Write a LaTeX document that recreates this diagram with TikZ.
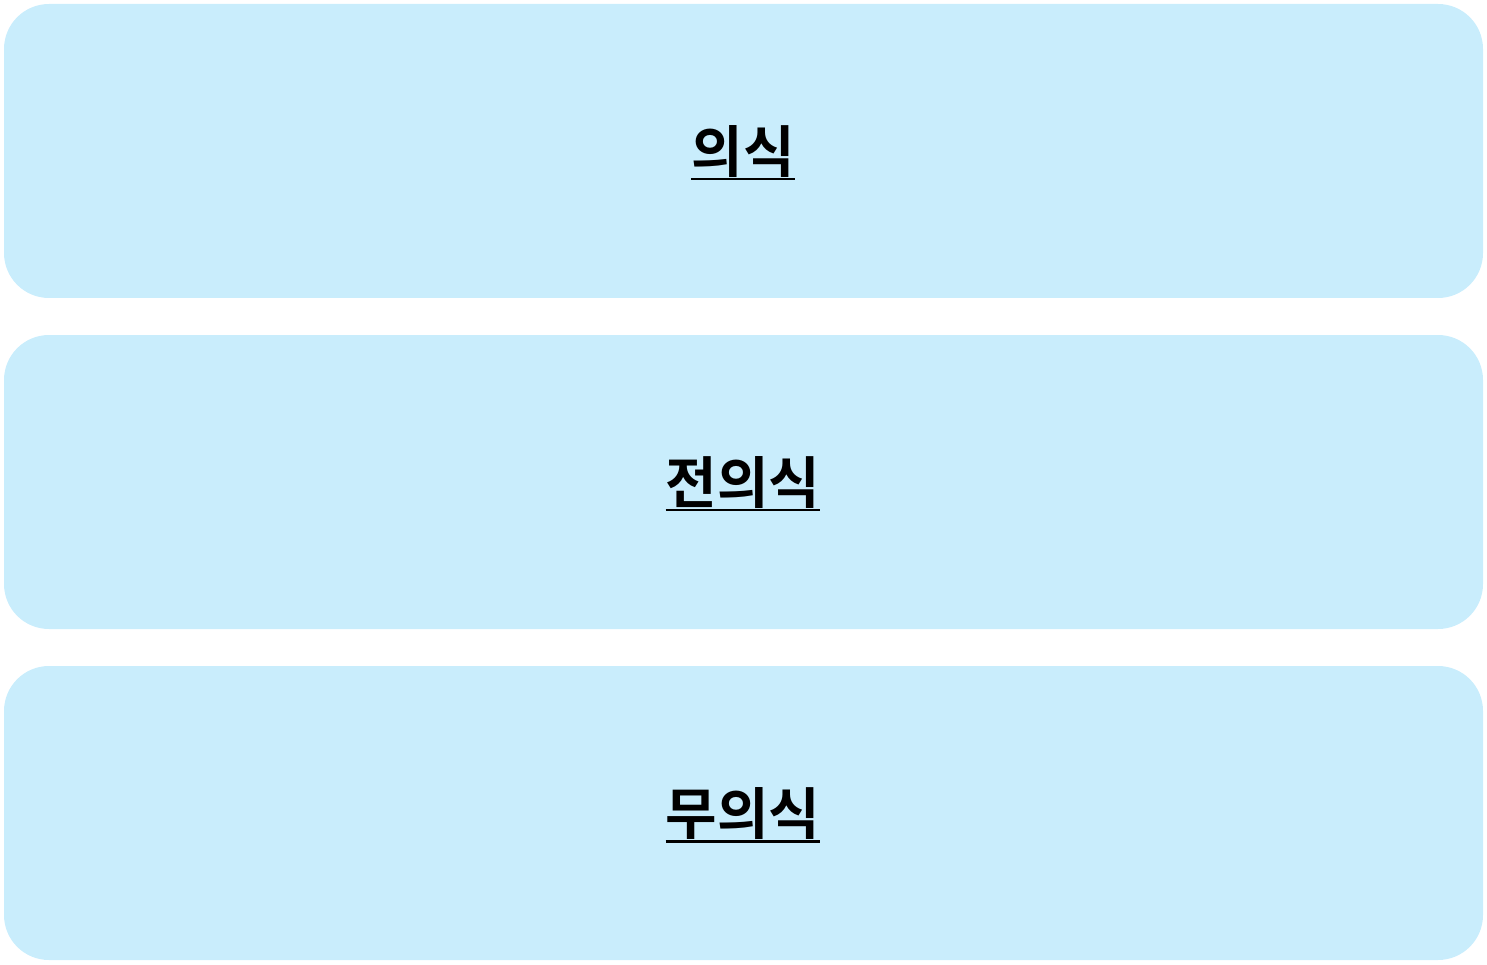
\documentclass[tikz,border=0pt]{standalone}
\usepackage{fontspec}
\newfontfamily\kr{Noto Sans CJK KR}[BoldFont={Noto Sans CJK KR Bold}]
\definecolor{boxblue}{HTML}{C9EDFC}
\newcommand\myul[1]{\setbox0\hbox{#1}\rlap{\rule[-8pt]{\wd0}{2.6pt}}\box0}
\begin{document}
\begin{tikzpicture}[x=1pt,y=-1pt,
  layer/.style={fill=boxblue,rounded corners=45pt},
  lbl/.style={font=\kr\bfseries\fontsize{56}{64}\selectfont}]
\useasboundingbox (0,0) rectangle (1487,965);
\fill[layer] (4,4) rectangle (1483,298);
\fill[layer] (4,335) rectangle (1483,629);
\fill[layer] (4,666) rectangle (1483,960);
\node[lbl] (a) at (743,153) {\myul{의식}};
\node[lbl] (b) at (743,484) {\myul{전의식}};
\node[lbl] (c) at (743,815) {\myul{무의식}};
\end{tikzpicture}
\end{document}
